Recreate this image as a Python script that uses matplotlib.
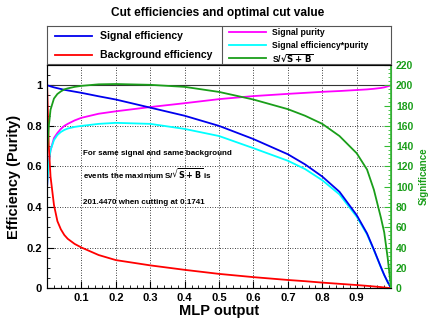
import matplotlib
matplotlib.use("Agg")
import matplotlib.pyplot as plt
from matplotlib.ticker import MultipleLocator

plt.rcParams['font.family'] = ['Liberation Sans', 'DejaVu Sans']
plt.rcParams['font.weight'] = 'bold'

# cut values on the MLP output
cut = [0.0, 0.005, 0.01, 0.02, 0.03, 0.04, 0.05, 0.06, 0.08, 0.1, 0.15, 0.2, 0.3, 0.4, 0.5,
       0.6, 0.7, 0.75, 0.8, 0.85, 0.9, 0.93, 0.95, 0.97, 0.98, 0.99, 1.0]
sig_eff = [1.0, 0.998, 0.995, 0.99, 0.986, 0.982, 0.978, 0.975, 0.969, 0.963, 0.946, 0.93,
           0.89, 0.85, 0.80, 0.735, 0.66, 0.61, 0.55, 0.475, 0.36, 0.27, 0.19, 0.105,
           0.065, 0.03, 0.0]
bkg_eff = [1.0, 0.70, 0.55, 0.41, 0.33, 0.29, 0.262, 0.243, 0.218, 0.20, 0.163, 0.138,
           0.112, 0.09, 0.07, 0.054, 0.04, 0.034, 0.027, 0.021, 0.015, 0.011, 0.008,
           0.005, 0.003, 0.001, 0.0]
purity = [0.50, 0.62, 0.68, 0.74, 0.765, 0.785, 0.80, 0.81, 0.827, 0.84, 0.86, 0.872,
          0.893, 0.912, 0.932, 0.947, 0.958, 0.963, 0.968, 0.972, 0.977, 0.98, 0.983,
          0.987, 0.99, 0.995, 1.0]
eff_pur = [0.50, 0.62, 0.68, 0.73, 0.755, 0.77, 0.78, 0.787, 0.795, 0.80, 0.81, 0.815,
           0.81, 0.785, 0.75, 0.69, 0.628, 0.587, 0.532, 0.462, 0.352, 0.265, 0.187,
           0.104, 0.064, 0.03, 0.0]
signif = [135, 160, 176, 187, 191.5, 194, 196, 197, 198.5, 199.5, 201, 201.3,
          200.5, 198.5, 193.5, 186, 176.5, 170, 162, 150, 133, 117, 97, 70, 55, 30, 0]

GREEN = '#1a9e1a'
AXGREEN = '#33bb33'

fig = plt.figure(figsize=(4.36, 3.27), dpi=100)
ax = fig.add_axes([0.108, 0.119, 0.789, 0.682])

ax.plot(cut, sig_eff, color='#0000ee', lw=1.3, zorder=4)
ax.plot(cut, bkg_eff, color='#ff0000', lw=1.3, zorder=4)
ax.plot(cut, purity, color='#ff00ff', lw=1.3, zorder=3)
ax.plot(cut, eff_pur, color='#00ffff', lw=1.3, zorder=3)
ax.axhline(1.0, color='#333333', lw=0.8, zorder=2)

ax.set_xlim(0, 1)
ax.set_ylim(0, 1.1)
ax.set_xticks([0.1, 0.2, 0.3, 0.4, 0.5, 0.6, 0.7, 0.8, 0.9])
ax.set_xticklabels(['0.1', '0.2', '0.3', '0.4', '0.5', '0.6', '0.7', '0.8', '0.9'])
ax.xaxis.set_minor_locator(MultipleLocator(0.02))
ax.set_yticks([0, 0.2, 0.4, 0.6, 0.8, 1.0])
ax.set_yticklabels(['0', '0.2', '0.4', '0.6', '0.8', '1'])
ax.yaxis.set_minor_locator(MultipleLocator(0.05))
ax.tick_params(which='both', direction='in', labelsize=8, right=False, top=False)
ax.tick_params(which='major', length=5)
ax.tick_params(which='minor', length=2.5)
ax.grid(True, which='major', color='k', ls=(0, (1, 2)), lw=0.6)
ax.set_xlabel('MLP output', fontsize=10.5, fontweight='bold', labelpad=1)
ax.set_ylabel('Efficiency (Purity)', fontsize=10.5, fontweight='bold', labelpad=4)
for s in ax.spines.values():
    s.set_color('#555555')

# significance on a second axis
ax2 = ax.twinx()
ax2.plot(cut, signif, color=GREEN, lw=1.3)
ax2.set_ylim(0, 220)
ax2.set_yticks(range(0, 221, 20))
ax2.yaxis.set_minor_locator(MultipleLocator(4))
ax2.tick_params(which='both', direction='in', colors=AXGREEN, labelsize=7.5)
ax2.tick_params(which='major', length=5)
ax2.tick_params(which='minor', length=2.5)
for lab in ax2.get_yticklabels():
    lab.set_color(GREEN)
ax2.spines['right'].set_color(AXGREEN)
ax2.spines['right'].set_linewidth(1.2)
ax2.set_ylabel('Significance', color=GREEN, fontsize=7, fontweight='bold', labelpad=4)

ax.text(0.105, 0.655, 'For same signal and same background', fontsize=5.8)
ax.text(0.105, 0.54, r'events the maximum S/$\sqrt{\mathrm{S+B}}$ is', fontsize=5.8)
ax.text(0.105, 0.415, '201.4470 when cutting at 0.1741', fontsize=5.8)

fig.text(0.5, 0.96, 'Cut efficiencies and optimal cut value', ha='center', va='center',
         fontsize=8.6, fontweight='bold')

# legend box above the frame
lg = fig.add_axes([0.108, 0.804, 0.789, 0.116])
lg.set_xlim(0, 1)
lg.set_ylim(0, 1)
lg.set_xticks([])
lg.set_yticks([])
for s in lg.spines.values():
    s.set_color('#555555')
lg.axvline(0.508, color='#555555', lw=0.8)
left_items = [('Signal efficiency', '#0000ee', 0.74), ('Background efficiency', '#ff0000', 0.24)]
for name, col, yy in left_items:
    lg.plot([0.023, 0.131], [yy, yy], color=col, lw=1.3)
    lg.text(0.154, yy, name, fontsize=7.6, va='center')
right_items = [('Signal purity', '#ff00ff', 0.84), ('Signal efficiency*purity', '#00ffff', 0.50),
               ('S/$\\sqrt{\\mathrm{S+B}}$', GREEN, 0.16)]
for name, col, yy in right_items:
    lg.plot([0.53, 0.635], [yy, yy], color=col, lw=1.3)
    lg.text(0.655, yy, name, fontsize=6.2, va='center')

fig.savefig('out.png', dpi=100)
